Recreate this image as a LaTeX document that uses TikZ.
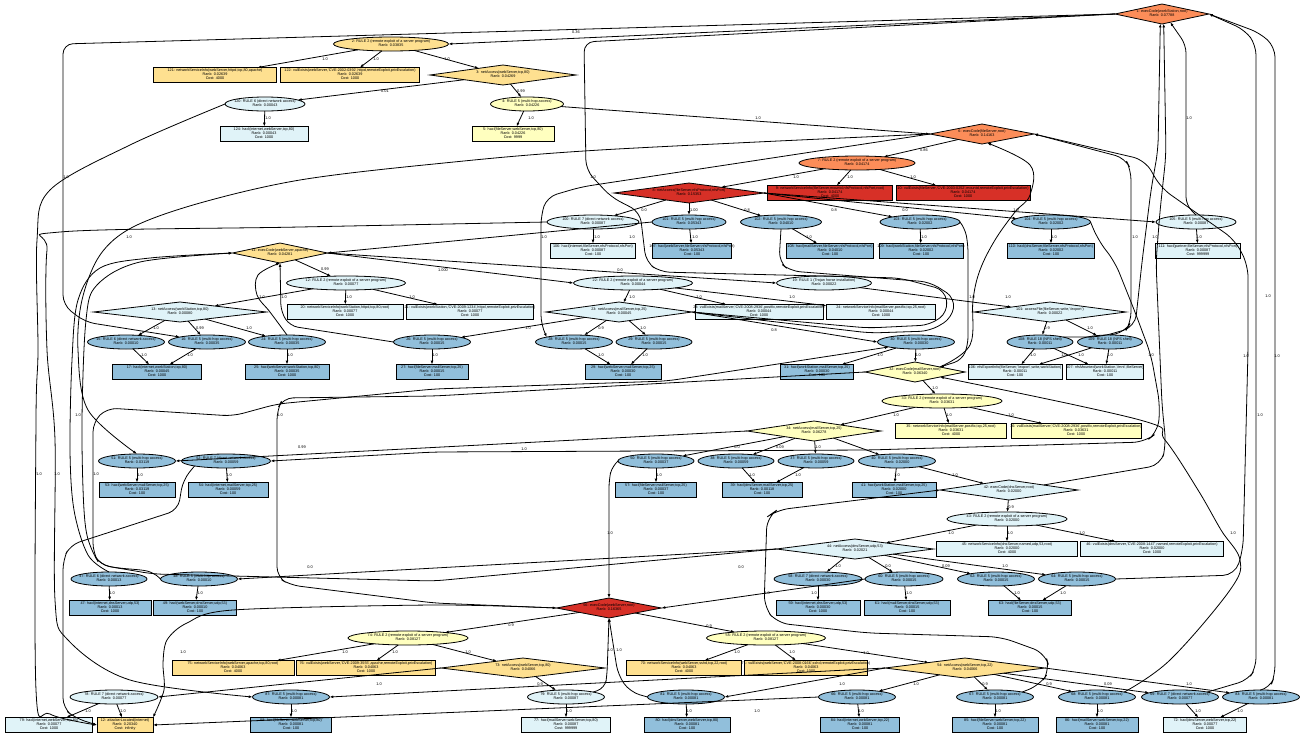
\documentclass[tikz,border=0pt]{standalone}
\usepackage{fontspec}
\setmainfont{Liberation Sans}
\usetikzlibrary{shapes.geometric,arrows.meta}
\definecolor{cR}{HTML}{D73027}
\definecolor{cO}{HTML}{FC8D59}
\definecolor{cG}{HTML}{FEE090}
\definecolor{cY}{HTML}{FFFFBF}
\definecolor{cL}{HTML}{E0F3F8}
\definecolor{cB}{HTML}{91BFDB}
\newcommand{\ntx}[1]{\smash{\makebox[0pt]{\raisebox{-0.25em}{\begin{tabular}{@{}c@{}}#1\end{tabular}}}}}
\newcounter{lc}
\newcommand{\mkL}[3]{\stepcounter{lc}\node[lab] (lab\arabic{lc}) at (#1,#2) {#3};}
\newcommand{\mkE}[6]{\node[ell,fill=#2,minimum width=#5] (#1) at (#3,#4) {\ntx{#6}};}
\newcommand{\mkB}[6]{\node[box,fill=#2,minimum width=#5] (#1) at (#3,#4) {\ntx{#6}};}
\newcommand{\mkD}[6]{\node[dia,fill=#2,minimum width=#5] (#1) at (#3,#4) {\ntx{#6}};}
\begin{document}
\begin{tikzpicture}[x=1pt,y=-1pt,
  base/.style={draw=black,line width=0.8pt,inner sep=0pt,outer sep=0pt,font=\fontsize{3.75}{4.1}\selectfont},
  ell/.style={base,ellipse,minimum height=14},
  box/.style={base,rectangle,minimum height=15},
  dia/.style={base,diamond,minimum height=20},
  e/.style={-{Latex[length=3.8pt,width=2.8pt]},line width=0.8pt},
  lab/.style={font=\fontsize{3.9}{4.2}\selectfont,inner sep=0.3pt}]
\fill[white] (0,0) rectangle (1302,734);
\useasboundingbox (0,0) rectangle (1302,734);
% ---------------- nodes ----------------
\mkD{n1}{cO}{1162}{14}{94}{1: execCode(workStation,root)\\Rank: 0.07788}
\mkE{n2}{cG}{391}{44}{115}{2: RULE 2 (remote exploit of a server program)\\Rank: 0.03835}
\mkB{n121}{cG}{215}{75}{123}{121: networkServiceInfo(webServer,httpd,tcp,80,apache)\\Rank: 0.02639\\Cost: 4000}
\mkB{n122}{cG}{350}{75}{139}{122: vulExists(webServer,'CVE-2002-0392',httpd,remoteExploit,privEscalation)\\Rank: 0.02639\\Cost: 1000}
\mkD{n3}{cG}{503}{75}{146}{3: netAccess(webServer,tcp,80)\\Rank: 0.04269}
\mkE{n4}{cL}{265}{104}{80}{120: RULE 6 (direct network access)\\Rank: 0.00043}
\mkE{n5}{cY}{527}{104}{73}{4: RULE 5 (multi-hop access)\\Rank: 0.04226}
\mkB{n124}{cL}{264}{134}{88}{124: hacl(internet,webServer,tcp,80)\\Rank: 0.00043\\Cost: 1000}
\mkB{n6}{cY}{513}{134}{82}{5: hacl(fileServer,webServer,tcp,80)\\Rank: 0.04226\\Cost: 9999}
\mkD{n7}{cO}{982}{134}{104}{6: execCode(fileServer,root)\\Rank: 0.14163}
\mkE{n8}{cO}{857}{163}{116}{7: RULE 2 (remote exploit of a server program)\\Rank: 0.04174}
\mkD{n9}{cR}{689}{193}{150}{8: netAccess(fileServer,nfsProtocol,nfsPort)\\Rank: 0.15353}
\mkB{n10}{cR}{830}{193}{125}{9: networkServiceInfo(fileServer,mountd,nfsProtocol,nfsPort,root)\\Rank: 0.04174\\Cost: 4000}
\mkB{n11}{cR}{963}{193}{134}{10: vulExists(fileServer,'CVE-2003-0252',mountd,remoteExploit,privEscalation)\\Rank: 0.04174\\Cost: 1000}
\mkE{n12}{cL}{593}{222}{92}{100: RULE 7 (direct network access)\\Rank: 0.00087}
\mkE{n13}{cB}{689}{222}{74}{101: RULE 5 (multi-hop access)\\Rank: 0.05343}
\mkE{n14}{cB}{781}{222}{81}{102: RULE 5 (multi-hop access)\\Rank: 0.04010}
\mkE{n15}{cB}{920}{222}{80}{103: RULE 5 (multi-hop access)\\Rank: 0.02002}
\mkE{n16}{cB}{1051}{222}{79}{104: RULE 5 (multi-hop access)\\Rank: 0.02002}
\mkE{n17}{cL}{1196}{222}{80}{105: RULE 5 (multi-hop access)\\Rank: 0.00087}
\mkB{b12}{cL}{593}{251}{85}{106: hacl(internet,fileServer,nfsProtocol,nfsPort)\\Rank: 0.00087\\Cost: 100}
\mkB{b13}{cB}{692}{251}{79}{107: hacl(webServer,fileServer,nfsProtocol,nfsPort)\\Rank: 0.05343\\Cost: 100}
\mkB{b14}{cB}{830}{251}{87}{108: hacl(mailServer,fileServer,nfsProtocol,nfsPort)\\Rank: 0.04010\\Cost: 100}
\mkB{b15}{cB}{921}{251}{84}{109: hacl(workStation,fileServer,nfsProtocol,nfsPort)\\Rank: 0.02002\\Cost: 100}
\mkB{b16}{cB}{1051}{251}{87}{110: hacl(dnsServer,fileServer,nfsProtocol,nfsPort)\\Rank: 0.02002\\Cost: 100}
\mkB{b17}{cL}{1198}{251}{85}{111: hacl(partner,fileServer,nfsProtocol,nfsPort)\\Rank: 0.00087\\Cost: 999999}
\mkD{n18}{cG}{280}{253}{95}{11: execCode(webServer,apache)\\Rank: 0.04281}
\mkE{n19}{cL}{346}{283}{119}{12: RULE 2 (remote exploit of a server program)\\Rank: 0.00077}
\mkE{n20}{cL}{633}{283}{119}{22: RULE 2 (remote exploit of a server program)\\Rank: 0.00044}
\mkE{n21}{cL}{824}{283}{95}{19: RULE 1 (Trojan horse installation)\\Rank: 0.00022}
\mkB{b19a}{cL}{345}{312}{116}{20: networkServiceInfo(workStation,httpd,tcp,80,root)\\Rank: 0.00077\\Cost: 1000}
\mkB{b19b}{cL}{470}{312}{127}{21: vulExists(workStation,'CVE-2009-1234',httpd,remoteExploit,privEscalation)\\Rank: 0.00077\\Cost: 1000}
\mkB{b20a}{cL}{759}{312}{128}{23: vulExists(mailServer,'CVE-2008-2936',postfix,remoteExploit,privEscalation)\\Rank: 0.00044\\Cost: 1000}
\mkB{b20b}{cL}{881}{312}{109}{24: networkServiceInfo(mailServer,postfix,tcp,25,root)\\Rank: 0.00044\\Cost: 1000}
\mkD{d22}{cL}{180}{312}{173}{13: netAccess(workStation,tcp,80)\\Rank: 0.00080}
\mkD{d23}{cL}{619}{312}{146}{23: netAccess(mailServer,tcp,25)\\Rank: 0.00045}
\mkD{d24}{cL}{1050}{312}{152}{101: accessFile(fileServer,write,'/export')\\Rank: 0.00022}
\mkE{e126}{cB}{126}{342}{77}{15: RULE 6 (direct network access)\\Rank: 0.00010}
\mkE{e207}{cB}{207}{342}{77}{16: RULE 5 (multi-hop access)\\Rank: 0.00035}
\mkE{e287}{cB}{287}{342}{77}{24: RULE 5 (multi-hop access)\\Rank: 0.00035}
\mkE{e432}{cB}{432}{342}{77}{26: RULE 5 (multi-hop access)\\Rank: 0.00015}
\mkE{e574}{cB}{574}{342}{77}{28: RULE 5 (multi-hop access)\\Rank: 0.00015}
\mkE{e654}{cB}{654}{342}{76}{29: RULE 5 (multi-hop access)\\Rank: 0.00015}
\mkE{e916}{cB}{916}{342}{77}{30: RULE 5 (multi-hop access)\\Rank: 0.00030}
\mkE{e1040}{cB}{1040}{342}{66}{108: RULE 18 (NFS shell)\\Rank: 0.00011}
\mkE{e1110}{cB}{1110}{342}{65}{109: RULE 18 (NFS shell)\\Rank: 0.00011}
\mkB{b157}{cB}{157}{372}{89}{17: hacl(internet,workStation,tcp,80)\\Rank: 0.00045\\Cost: 1000}
\mkB{b287}{cB}{287}{372}{84}{25: hacl(webServer,workStation,tcp,80)\\Rank: 0.00035\\Cost: 1000}
\mkB{b432}{cB}{432}{372}{72}{27: hacl(fileServer,mailServer,tcp,25)\\Rank: 0.00015\\Cost: 100}
\mkB{b623}{cB}{623}{372}{76}{29: hacl(webServer,mailServer,tcp,25)\\Rank: 0.00030\\Cost: 100}
\mkB{b817}{cB}{817}{372}{73}{31: hacl(workStation,mailServer,tcp,25)\\Rank: 0.00030\\Cost: 100}
\mkB{b1015}{cL}{1015}{372}{94}{106: nfsExportInfo(fileServer,'/export',write,workStation)\\Rank: 0.00011\\Cost: 100}
\mkB{b1105}{cL}{1105}{372}{77}{107: nfsMounted(workStation,'/mnt',fileServer)\\Rank: 0.00011\\Cost: 100}
\mkD{d915}{cY}{915}{372}{100}{32: execCode(mailServer,root)\\Rank: 0.06340}
\mkE{e942}{cY}{942}{401}{120}{33: RULE 2 (remote exploit of a server program)\\Rank: 0.03631}
\mkD{d814}{cY}{814}{431}{134}{34: netAccess(mailServer,tcp,25)\\Rank: 0.06278}
\mkB{b951}{cY}{951}{431}{111}{35: networkServiceInfo(mailServer,postfix,tcp,25,root)\\Rank: 0.03631\\Cost: 4000}
\mkB{b1076}{cY}{1076}{431}{130}{36: vulExists(mailServer,'CVE-2008-2936',postfix,remoteExploit,privEscalation)\\Rank: 0.03631\\Cost: 1000}
\mkE{e137}{cB}{137}{461}{77}{51: RULE 5 (multi-hop access)\\Rank: 0.03119}
\mkE{e226}{cB}{226}{461}{89}{52: RULE 7 (direct network access)\\Rank: 0.00059}
\mkE{e656}{cB}{656}{461}{76}{50: RULE 5 (multi-hop access)\\Rank: 0.00037}
\mkE{e736}{cB}{736}{461}{76}{38: RULE 5 (multi-hop access)\\Rank: 0.00059}
\mkE{e816}{cB}{816}{461}{76}{37: RULE 5 (multi-hop access)\\Rank: 0.00059}
\mkE{e897}{cB}{897}{461}{77}{40: RULE 5 (multi-hop access)\\Rank: 0.02000}
\mkB{b137}{cB}{137}{490}{76}{53: hacl(webServer,mailServer,tcp,25)\\Rank: 0.03119\\Cost: 100}
\mkB{b228}{cB}{228}{490}{80}{54: hacl(internet,mailServer,tcp,25)\\Rank: 0.00059\\Cost: 100}
\mkB{b656}{cB}{656}{490}{81}{57: hacl(fileServer,mailServer,tcp,25)\\Rank: 0.00037\\Cost: 100}
\mkB{b762}{cB}{762}{490}{80}{39: hacl(dnsServer,mailServer,tcp,25)\\Rank: 0.00118\\Cost: 100}
\mkB{b894}{cB}{894}{490}{84}{41: hacl(workStation,mailServer,tcp,25)\\Rank: 0.02000\\Cost: 100}
\mkD{d1009}{cL}{1009}{490}{138}{42: execCode(dnsServer,root)\\Rank: 0.02000}
\mkE{e1007}{cL}{1007}{519}{120}{43: RULE 2 (remote exploit of a server program)\\Rank: 0.02000}
\mkD{d855}{cL}{855}{549}{157}{44: netAccess(dnsServer,udp,53)\\Rank: 0.02021}
\mkB{b1007}{cL}{1007}{549}{141}{45: networkServiceInfo(dnsServer,named,udp,53,root)\\Rank: 0.02000\\Cost: 4000}
\mkB{b1152}{cL}{1152}{549}{143}{46: vulExists(dnsServer,'CVE-2008-1447',named,remoteExploit,privEscalation)\\Rank: 0.02000\\Cost: 1000}
\mkE{e109}{cB}{109}{579}{76}{47: RULE 6 (direct network access)\\Rank: 0.00013}
\mkE{e199}{cB}{199}{579}{77}{48: RULE 5 (multi-hop access)\\Rank: 0.00010}
\mkE{e818}{cB}{818}{579}{88}{58: RULE 7 (direct network access)\\Rank: 0.00030}
\mkE{e904}{cB}{904}{579}{78}{60: RULE 5 (multi-hop access)\\Rank: 0.00015}
\mkE{e996}{cB}{996}{579}{77}{62: RULE 5 (multi-hop access)\\Rank: 0.00015}
\mkE{e1077}{cB}{1077}{579}{77}{64: RULE 5 (multi-hop access)\\Rank: 0.00015}
\mkB{b110}{cB}{110}{608}{82}{47: hacl(internet,dnsServer,udp,53)\\Rank: 0.00013\\Cost: 1000}
\mkB{b195}{cB}{195}{608}{83}{49: hacl(webServer,dnsServer,udp,53)\\Rank: 0.00010\\Cost: 100}
\mkB{b818}{cB}{818}{608}{84}{59: hacl(internet,dnsServer,udp,53)\\Rank: 0.00030\\Cost: 1000}
\mkB{b907}{cB}{907}{608}{86}{61: hacl(mailServer,dnsServer,udp,53)\\Rank: 0.00015\\Cost: 100}
\mkB{b1030}{cB}{1030}{608}{83}{63: hacl(fileServer,dnsServer,udp,53)\\Rank: 0.00015\\Cost: 100}
\mkD{dred}{cR}{609}{608}{105}{56: execCode(webServer,root)\\Rank: 0.16365}
\mkE{e408}{cY}{408}{638}{120}{74: RULE 2 (remote exploit of a server program)\\Rank: 0.08127}
\mkE{e766}{cY}{766}{638}{119}{55: RULE 2 (remote exploit of a server program)\\Rank: 0.08127}
\mkB{b233}{cG}{233}{668}{122}{75: networkServiceInfo(webServer,apache,tcp,80,root)\\Rank: 0.04063\\Cost: 4000}
\mkB{b366}{cG}{366}{668}{139}{76: vulExists(webServer,'CVE-2009-3555',apache,remoteExploit,privEscalation)\\Rank: 0.04063\\Cost: 1000}
\mkB{b684}{cG}{684}{668}{115}{70: networkServiceInfo(webServer,sshd,tcp,22,root)\\Rank: 0.04063\\Cost: 4000}
\mkB{b806}{cG}{806}{668}{123}{71: vulExists(webServer,'CVE-2008-0166',sshd,remoteExploit,privEscalation)\\Rank: 0.04063\\Cost: 1000}
\mkD{d523}{cG}{523}{668}{164}{73: netAccess(webServer,tcp,80)\\Rank: 0.04066}
\mkD{d965}{cG}{965}{668}{160}{54: netAccess(webServer,tcp,22)\\Rank: 0.04066}
\mkE{e114}{cL}{114}{697}{88}{78: RULE 7 (direct network access)\\Rank: 0.00077}
\mkE{e291}{cB}{291}{697}{77}{87: RULE 5 (multi-hop access)\\Rank: 0.00081}
\mkE{e566}{cL}{566}{697}{77}{79: RULE 5 (multi-hop access)\\Rank: 0.00087}
\mkE{e686}{cB}{686}{697}{77}{81: RULE 5 (multi-hop access)\\Rank: 0.00081}
\mkE{e857}{cB}{857}{697}{77}{66: RULE 5 (multi-hop access)\\Rank: 0.00081}
\mkE{e995}{cB}{995}{697}{77}{67: RULE 5 (multi-hop access)\\Rank: 0.00081}
\mkE{e1097}{cB}{1097}{697}{77}{68: RULE 5 (multi-hop access)\\Rank: 0.00081}
\mkE{e1180}{cB}{1180}{697}{77}{69: RULE 7 (direct network access)\\Rank: 0.00077}
\mkE{e1261}{cB}{1261}{697}{77}{83: RULE 5 (multi-hop access)\\Rank: 0.00081}
\mkB{b49}{cL}{49}{725}{87}{79: hacl(internet,webServer,tcp,80)\\Rank: 0.00077\\Cost: 1000}
\mkB{b125}{cG}{125}{725}{56}{12: attackerLocated(internet)\\Rank: 0.20340\\Cost: infinity}
\mkB{b291}{cB}{291}{725}{81}{88: hacl(fileServer,webServer,tcp,80)\\Rank: 0.00081\\Cost: 100}
\mkB{b566}{cL}{566}{725}{89}{77: hacl(mailServer,webServer,tcp,80)\\Rank: 0.00087\\Cost: 999999}
\mkB{b687}{cB}{687}{725}{86}{80: hacl(dnsServer,webServer,tcp,80)\\Rank: 0.00081\\Cost: 100}
\mkB{b860}{cB}{860}{725}{79}{84: hacl(internet,webServer,tcp,22)\\Rank: 0.00081\\Cost: 100}
\mkB{b995}{cB}{995}{725}{86}{85: hacl(fileServer,webServer,tcp,22)\\Rank: 0.00081\\Cost: 100}
\mkB{b1097}{cB}{1097}{725}{82}{86: hacl(mailServer,webServer,tcp,22)\\Rank: 0.00081\\Cost: 100}
\mkB{b1205}{cL}{1205}{725}{83}{72: hacl(dnsServer,webServer,tcp,22)\\Rank: 0.00077\\Cost: 1000}
% ---------------- short edges ----------------
\draw[e] (n2) -- (n121); \mkL{325}{59}{1.0}
\draw[e] (n2) -- (n122); \mkL{376}{59}{1.0}
\draw[e] (n2) -- (n3); \mkL{447}{59}{1.0}
\draw[e] (n3) -- (n4); \mkL{385}{91}{0.01}
\draw[e] (n3) -- (n5); \mkL{521}{91}{0.99}
\draw[e] (n4) -- (n124); \mkL{268}{118}{1.0}
\draw[e] (n5) -- (n6); \mkL{531}{118}{1.0}
\draw[e] (n5) -- (n7.west); \mkL{758}{118}{1.0}
\draw[e] (n7) -- (n8); \mkL{924}{150}{0.86}
\draw[e] (n8) -- (n9); \mkL{796}{177}{1.0}
\draw[e] (n8) -- (n10); \mkL{850}{177}{1.0}
\draw[e] (n8) -- (n11); \mkL{913}{177}{1.0}
\draw[e] (n9) -- (n12); \mkL{644}{210}{0.0}
\draw[e] (n9) -- (n13); \mkL{694}{210}{1.00}
\draw[e] (n9) -- (n14); \mkL{747}{210}{0.8}
\draw[e] (n9.east) -- (n15); \mkL{834}{210}{0.8}
\draw[e] (n9.east) -- (n16); \mkL{905}{210}{0.0}
\draw[e] (n9.east) -- (n17.west);
\draw[e] (n12) -- (b12); \mkL{597}{237}{1.0}
\draw[e] (n13) -- (b13); \mkL{695}{237}{1.0}
\draw[e] (n14) -- (b14); \mkL{809}{237}{1.0}
\draw[e] (n15) -- (b15); \mkL{924}{237}{1.0}
\draw[e] (n16) -- (b16); \mkL{1054}{237}{1.0}
\draw[e] (n17) -- (b17); \mkL{1199}{237}{1.0}
\draw[e] (n18) -- (n19); \mkL{325}{269}{0.99}
\draw[e] (n18.east) -- (n20.west); \mkL{443}{270}{1.000}
\draw[e] (n18.east) -- (n21.west); \mkL{620}{270}{0.0}
\draw[e] (n19) -- (b19a); \mkL{349}{297}{1.0}
\draw[e] (n19) -- (b19b); \mkL{412}{297}{1.0}
\draw[e] (n19) -- (d22); 
\draw[e] (n20) -- (d23); \mkL{632}{297}{1.0}
\draw[e] (n20) -- (b20a); \mkL{699}{297}{1.0}
\draw[e] (n20) -- (b20b); \mkL{792}{297}{1.0}
\draw[e] (n21) -- (d24); \mkL{1008}{297}{1.0}
\draw[e] (d22) -- (e126); \mkL{156}{328}{1.0}
\draw[e] (d22) -- (e207); \mkL{200}{328}{0.99}
\draw[e] (d22) -- (e287); \mkL{249}{328}{1.0}
\draw[e] (d23) -- (e432); \mkL{528}{328}{1.0}
\draw[e] (d23) -- (e574); \mkL{601}{328}{0.9}
\draw[e] (d23) -- (e654); \mkL{643}{328}{1.0}
\draw[e] (d23.east) -- (e916.west); \mkL{774}{330}{0.8}
\draw[e] (d24) -- (e1040); \mkL{1047}{328}{0.9}
\draw[e] (d24) -- (e1110); \mkL{1090}{328}{1.0}
\draw[e] (e126) -- (b157); \mkL{144}{355}{1.0}
\draw[e] (e207) -- (b157); \mkL{190}{355}{1.0}
\draw[e] (e287) -- (b287); \mkL{290}{355}{1.0}
\draw[e] (e432) -- (b432); \mkL{435}{355}{1.0}
\draw[e] (e574) -- (b623); \mkL{601}{355}{1.0}
\draw[e] (e654) -- (b623); \mkL{645}{355}{1.0}
\draw[e] (e916) -- (b817); \mkL{880}{355}{1.0}
\draw[e] (e916) -- (d915); \mkL{918}{355}{1.0}
\draw[e] (e1040) -- (b1015); \mkL{1033}{355}{1.0}
\draw[e] (e1040) -- (b1105); \mkL{1064}{355}{1.0}
\draw[e] (e1110) -- (b1015); \mkL{1081}{355}{1.0}
\draw[e] (e1110) -- (b1105); \mkL{1110}{355}{1.0}
\draw[e] (d915) -- (e942); \mkL{935}{388}{1.0}
\draw[e] (e942) -- (d814); \mkL{896}{415}{1.0}
\draw[e] (e942) -- (b951); \mkL{949}{415}{1.0}
\draw[e] (e942) -- (b1076); \mkL{1011}{415}{1.0}
\draw[e] (d814.west) -- (e137.east); \mkL{302}{447}{0.99}
\draw[e] (d814) -- (e656); \mkL{737}{447}{0.0}
\draw[e] (d814) -- (e736); \mkL{780}{447}{0.09}
\draw[e] (d814) -- (e816); \mkL{818}{447}{1.0}
\draw[e] (d814) -- (e897);
\draw[e] (e137) -- (b137); \mkL{140}{475}{1.0}
\draw[e] (e226) -- (b228); \mkL{229}{475}{1.0}
\draw[e] (e656) -- (b656); \mkL{659}{475}{1.0}
\draw[e] (e736) -- (b762); \mkL{752}{475}{1.0}
\draw[e] (e816) -- (b762); \mkL{798}{475}{1.0}
\draw[e] (e897) -- (b894); \mkL{897}{475}{1.0}
\draw[e] (e897) -- (d1009); \mkL{955}{475}{1.0}
\draw[e] (d1009) -- (e1007); \mkL{1011}{507}{0.9}
\draw[e] (e1007) -- (d855); \mkL{951}{533}{1.0}
\draw[e] (e1007) -- (b1007); \mkL{1010}{533}{1.0}
\draw[e] (e1007) -- (b1152); \mkL{1082}{533}{1.0}
\draw[e] (d855) -- (e818); \mkL{838}{566}{1.0}
\draw[e] (d855) -- (e904); \mkL{888}{566}{0.0}
\draw[e] (d855) -- (e996); \mkL{946}{566}{0.09}
\draw[e] (d855) -- (e1077); \mkL{1005}{566}{1.0}
\draw[e] (d855.west) -- (e199.east); \mkL{310}{567}{0.0}
\draw[e] (e109) -- (b110); \mkL{112}{593}{1.0}
\draw[e] (e199) -- (b195); \mkL{200}{593}{1.0}
\draw[e] (e818) -- (b818); \mkL{814}{593}{1.0}
\draw[e] (e904) -- (b907); \mkL{909}{593}{1.0}
\draw[e] (e996) -- (b1030); \mkL{1017}{593}{1.0}
\draw[e] (e1077) -- (b1030); \mkL{1063}{593}{1.0}
\draw[e] (e904.west) -- (dred.east);
\draw[e] (dred) -- (e408); \mkL{511}{625}{0.9}
\draw[e] (dred) -- (e766); \mkL{709}{626}{0.9}
\draw[e] (e408) -- (b233); \mkL{345}{652}{1.0}
\draw[e] (e408) -- (b366); \mkL{395}{652}{1.0}
\draw[e] (e408) -- (d523); \mkL{468}{652}{1.0}
\draw[e] (e766) -- (b684); \mkL{737}{652}{1.0}
\draw[e] (e766) -- (b806); \mkL{792}{652}{1.0}
\draw[e] (e766) -- (d965); \mkL{866}{653}{1.0}
\draw[e] (d523) -- (e566); \mkL{540}{684}{0.9}
\draw[e] (d523.west) -- (e114.east);
\draw[e] (d965.west) -- (e291.east); \mkL{379}{684}{1.0}
\draw[e] (d965.west) -- (e686.east); \mkL{842}{684}{1.0}
\draw[e] (d965) -- (e857); \mkL{916}{684}{1.0}
\draw[e] (d965) -- (e995); \mkL{985}{684}{0.9}
\draw[e] (d965) -- (e1097); \mkL{1049}{684}{0.9}
\draw[e] (d965) -- (e1180); \mkL{1108}{684}{0.09}
\draw[e] (d965.east) -- (e1261); \mkL{1189}{684}{1.0}
\draw[e] (e114) -- (b49); \mkL{88}{711}{1.0}
\draw[e] (e114) -- (b125); \mkL{123}{711}{1.0}
\draw[e] (e291) -- (b291); \mkL{294}{711}{1.0}
\draw[e] (e566) -- (b566); \mkL{569}{711}{1.0}
\draw[e] (e686) -- (b687); \mkL{689}{711}{1.0}
\draw[e] (e857) -- (b860); \mkL{861}{711}{1.0}
\draw[e] (e995) -- (b995); \mkL{998}{711}{1.0}
\draw[e] (e1097) -- (b1097); \mkL{1100}{711}{1.0}
\draw[e] (e1180) -- (b1205); \mkL{1198}{711}{1.0}
\draw[e] (e1261) -- (b1205); \mkL{1240}{711}{1.0}
\draw[e] (e857.west) -- (b125.east); \mkL{757}{711}{1.0}
% ---------------- long edges ----------------
\draw[e] (n1.west) -- (n2.east); \mkL{576}{32}{0.36}
\draw[e,rounded corners=10] (n1.west) -- (63,44) -- (63,305) -- (85,322) -- (e207.north west); \mkL{66}{177}{1.0}
\draw[e,rounded corners=10] (n1.west) -- (584,42) -- (586,170) -- (611,197) -- (640,212) -- (646,262) -- (660,272) -- (900,278) -- (945,290) -- (948,312) -- (930,325) -- (868,328) -- (d23.east); \mkL{593}{177}{1.0}
\draw[e,rounded corners=10] (n14.south) -- (779,262) -- (790,271) -- (930,282) -- (955,298) -- (952,318) -- (930,331) -- (870,333) -- (d23.east);
\draw[e] plot[smooth,tension=0.55] coordinates {(n4.west) (130,145) (50,190) (37,240) (38,350) (36,420) (36,690) (50,714) (b125.west)}; \mkL{39}{474}{1.0}
\draw[e] plot[smooth,tension=0.55] coordinates {(n12.west) (300,227) (60,232) (47,250) (47,350) (55,440) (55,600) (68,640) (130,680) (e291.west)}; \mkL{57}{474}{1.0}
\draw[e] plot[smooth,tension=0.55] coordinates {(n7.west) (600,150) (434,164) (300,180) (200,203) (133,227) (100,255) (82,300) (78,350) (88,410) (e137.north)}; \mkL{129}{237}{1.0}
\draw[e] plot[smooth,tension=0.55] coordinates {(e109.north) (88,555) (74,510) (70,450) (72,360) (78,300) (100,268) (150,258) (n18.west)};
\draw[e] plot[smooth,tension=0.55] coordinates {(e199.west) (147,571) (105,565) (90,545) (84,510) (82,420) (86,320) (97,285) (140,262) (n18.west)}; \mkL{78}{415}{1.0}
\draw[e,rounded corners=10] (e226.south west) -- (183,480) -- (178,510) -- (70,545) -- (63,560) -- (63,708) -- (75,718) -- (b125.west);
\draw[e,rounded corners=10] (d915.west) -- (434,396) -- (283,398) -- (277,410) -- (277,577) -- (290,585) -- (434,603) -- (dred.west); \mkL{280}{415}{1.0}
\draw[e,rounded corners=10] (d855.west) -- (434,581) -- (153,574) -- (100,565) -- (93,553) -- (93,422) -- (107,408) -- (233,416) -- (277,404) -- (434,389) -- (667,381) -- (e916.south west); \mkL{741}{567}{0.0}\mkL{96}{474}{1.0}
\draw[e,rounded corners=10] (n7.west) -- (581,187) -- (547,197) -- (541,215) -- (541,325) -- (e574.north west); \mkL{544}{237}{1.0}
\draw[e,rounded corners=8] (e432.west) -- (290,326) -- (281,312) -- (n18.south); \mkL{284}{297}{1.0}
\draw[e] plot[smooth,tension=0.6] coordinates {(e287.north) (270,312) (257,295) (258,275) (n18.south)}; \mkL{262}{297}{1.0}
\draw[e] (n13.west) -- (n18.east); \mkL{632}{237}{1.0}
\draw[e,rounded corners=12] (n16.east) -- (1098,240) -- (1115,262) -- (1135,312) -- (1151,355) -- (1160,405) -- (1158,432) -- (1145,442) -- (868,450) -- (434,452) -- (e226.east); \mkL{1151}{355}{1.0}\mkL{524}{449}{1.0}
\draw[e,rounded corners=8] (n17.north) -- (1186,205) -- (1186,45) -- (n1.-45); \mkL{1189}{118}{1.0}
\draw[e,rounded corners=10] (e1180.north east) -- (1248,680) -- (1256,668) -- (1256,45) -- (1245,30) -- (n1.east); \mkL{1260}{415}{1.0}
\draw[e,rounded corners=10] (e1261.north) -- (1270,688) -- (1275,675) -- (1275,47) -- (1260,33) -- (n1.east); \mkL{1277}{356}{1.0}\mkL{1268}{296}{1.0}
\draw[e,rounded corners=12] (e1077.east) -- (1235,575) -- (1243,550) -- (1248,350) -- (1248,265) -- (1235,240) -- (1161,188) -- (1145,160) -- (n7.east); \mkL{1246}{356}{1.0}
\draw[e,rounded corners=10] (e1110.north) -- (1125,332) -- (1131,322) -- (1131,170) -- (1125,158) -- (n7.east); \mkL{1135}{237}{1.0}
\draw[e,rounded corners=12] (e1040.north east) -- (1100,337) -- (1135,327) -- (1142,262) -- (1151,190) -- (1158,150) -- (n1.-100); \mkL{1155}{237}{1.0}
\draw[e,rounded corners=12] (d1009.north east) -- (1161,465) -- (1166,445) -- (1162,405) -- (1156,262) -- (1160,211) -- (1166,155) -- (n1.-80);
\draw[e,rounded corners=8] (n15.east) -- (965,228) -- (968,245) -- (968,345) -- (962,360) -- (d915.north east); \mkL{972}{297}{1.0}
\draw[e] plot[smooth,tension=0.6] coordinates {(d915.north east) (970,345) (973,300) (980,270) (995,240) (1015,212) (1030,195) (1030,165) (n7.-60)}; \mkL{1016}{210}{1.0}
\draw[e,rounded corners=8] (e656.west) -- (612,466) -- (609,480) -- (dred.north); \mkL{610}{533}{1.0}
\draw[e,rounded corners=8] (e566.north east) -- (605,688) -- (607,675) -- (dred.south); \mkL{610}{650}{1.0}
\draw[e,rounded corners=10] (e686.west) -- (630,692) -- (618,675) -- (dred.south); \mkL{619}{650}{1.0}
\draw[e] plot[smooth,tension=0.5] coordinates {(dred.west) (434,605) (233,610) (187,623) (167,640) (163,663) (164,690) (b125.north east)}; \mkL{183}{652}{1.0}
\draw[e,rounded corners=12] (e995.north east) -- (1040,685) -- (1050,670) -- (1045,653) -- (1001,637) -- (868,633) -- (777,623) -- (764,607) -- (767,517) -- (777,510) -- (d1009.west); \mkL{767}{593}{1.0}
\draw[e] plot[smooth,tension=0.6] coordinates {(e1097.north east) (1170,660) (1230,590) (1240,560) (1221,530) (1198,490) (1165,440) (1140,420) (d915.south east)}; \mkL{1233}{533}{1.0}
\end{tikzpicture}
\end{document}
